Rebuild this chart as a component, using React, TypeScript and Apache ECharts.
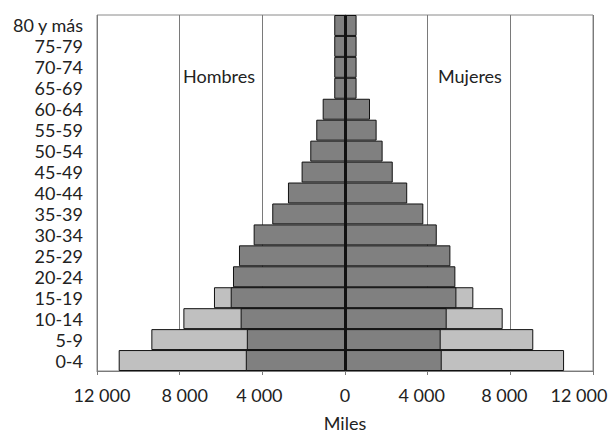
import React, { useEffect, useRef } from "react";
import * as echarts from "echarts";

const ageGroups = [
  "0-4", "5-9", "10-14", "15-19", "20-24", "25-29", "30-34", "35-39", "40-44",
  "45-49", "50-54", "55-59", "60-64", "65-69", "70-74", "75-79", "80 y más",
];

// Dark (front) bars, thousands
const menDark = [4800, 4750, 5050, 5530, 5420, 5130, 4420, 3520, 2760, 2100, 1680, 1390, 1080, 520, 520, 520, 520];
const womenDark = [4680, 4630, 4920, 5390, 5340, 5100, 4440, 3790, 3010, 2310, 1820, 1530, 1210, 560, 560, 560, 560];
// Light (back) bars, thousands; null where hidden behind the dark bars
const menLight = [10950, 9370, 7820, 6340, null, null, null, null, null, null, null, null, null, null, null, null, null];
const womenLight = [10600, 9110, 7630, 6210, null, null, null, null, null, null, null, null, null, null, null, null, null];

const xTicks = { min: -12000, max: 12000, interval: 4000 };

const FONT = "Lato";
const FS = 18;

// horizontal nudge (px) of each x tick label, as typeset in the reference
const labelShift: Record<string, number> = {
  "-12000": 5, "-8000": 5, "-4000": -3, "0": 0, "4000": -6, "8000": -6, "12000": -14,
};

function fmt(v: number) {
  return Math.abs(v).toString().replace(/\B(?=(\d{3})+(?!\d))/g, " ");
}

export default function App() {
  const ref = useRef<HTMLDivElement>(null);
  useEffect(() => {
    if (!ref.current) return;
    const chart = echarts.init(ref.current, undefined, { renderer: "svg" });
    const neg = (a: (number | null)[]) => a.map((v) => (v == null ? null : -v));
    const barBase = {
      type: "bar" as const,
      barGap: "-100%",
      barCategoryGap: "0%",
      silent: true,
    };
    const rich: Record<string, any> = {};
    Object.keys(labelShift).forEach((k, i) => {
      const s = labelShift[k];
      rich["s" + i] = {
        fontSize: FS, color: "#222", fontFamily: FONT,
        padding: s >= 0 ? [0, 0, 0, 2 * s] : [0, -2 * s, 0, 0],
      };
    });
    const keys = Object.keys(labelShift);
    chart.setOption({
      animation: false,
      textStyle: { fontFamily: FONT },
      grid: {
        left: 97, right: 19, top: 15, bottom: 63,
        containLabel: false,
        outerBoundsMode: "none",
        show: true, borderColor: "#8a8a8a", borderWidth: 1,
      },
      xAxis: {
        type: "value",
        min: xTicks.min, max: xTicks.max, interval: xTicks.interval,
        axisLine: { show: true, lineStyle: { color: "#7a7a7a", width: 1 } },
        axisTick: { show: true, length: 4, lineStyle: { color: "#7a7a7a" } },
        splitLine: { show: true, lineStyle: { color: "#7a7a7a", width: 1 } },
        axisLabel: {
          formatter: (v: number) => {
            const i = keys.indexOf(String(v));
            return i >= 0 ? `{s${i}|${fmt(v)}}` : fmt(v);
          },
          rich,
          fontSize: FS, color: "#222", margin: 15, fontFamily: FONT,
        },
        name: "Miles",
        nameLocation: "middle",
        nameGap: 43,
        nameTextStyle: { fontSize: FS, lineHeight: 18, color: "#222", fontFamily: FONT },
      },
      yAxis: {
        type: "category",
        data: ageGroups,
        axisLine: { show: true, lineStyle: { color: "#7a7a7a" } },
        axisTick: { show: false },
        axisLabel: { interval: 0, fontSize: FS, color: "#222", margin: 14, fontFamily: FONT, padding: [6, 0, 0, 0] },
        splitLine: { show: false },
      },
      graphic: [
        { type: "text", left: 183, top: 67, style: { text: "Hombres", fontSize: FS, fill: "#222", fontFamily: FONT } },
        { type: "text", left: 438, top: 67, style: { text: "Mujeres", fontSize: FS, fill: "#222", fontFamily: FONT } },
      ],
      series: [
        { ...barBase, name: "Hombres claro", data: neg(menLight), itemStyle: { color: "#c0c0c0", borderColor: "#111", borderWidth: 1 } },
        { ...barBase, name: "Mujeres claro", data: womenLight, itemStyle: { color: "#c0c0c0", borderColor: "#111", borderWidth: 1 } },
        { ...barBase, name: "Hombres", data: neg(menDark), itemStyle: { color: "#808080", borderColor: "#111", borderWidth: 1 } },
        {
          ...barBase, name: "Mujeres", data: womenDark,
          itemStyle: { color: "#808080", borderColor: "#111", borderWidth: 1 },
          markLine: {
            silent: true, symbol: "none", label: { show: false },
            lineStyle: { color: "#111", width: 3, type: "solid" },
            data: [{ xAxis: 0 }],
          },
        },
      ],
    });
    return () => chart.dispose();
  }, []);
  return <div ref={ref} style={{ width: 612, height: 434, position: "absolute", left: 0, top: 0 }} />;
}
